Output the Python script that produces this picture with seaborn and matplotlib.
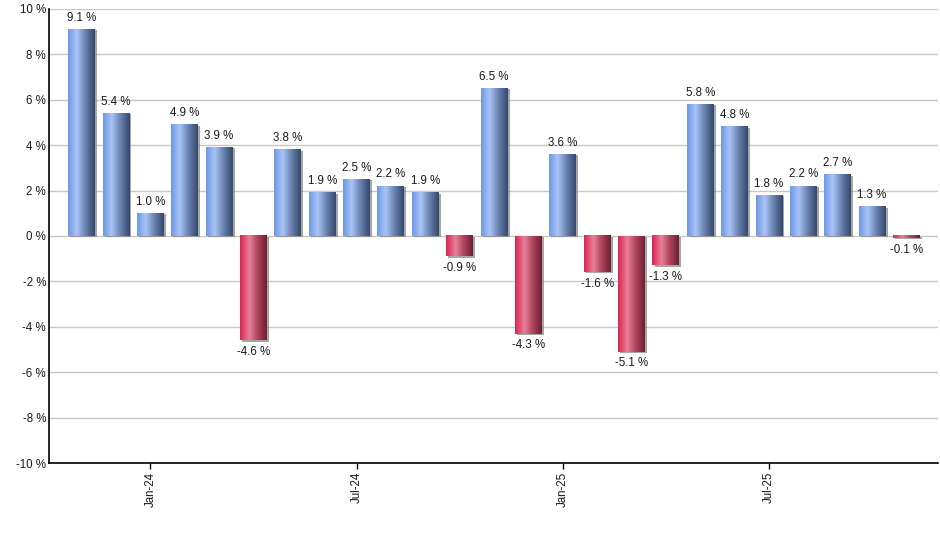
import numpy as np
import pandas as pd
import matplotlib
matplotlib.use("Agg")
import matplotlib.pyplot as plt
import matplotlib.patheffects as pe
from matplotlib.colors import LinearSegmentedColormap
import seaborn as sns

months = ["Nov-23", "Dec-23", "Jan-24", "Feb-24", "Mar-24", "Apr-24", "May-24", "Jun-24",
          "Jul-24", "Aug-24", "Sep-24", "Oct-24", "Nov-24", "Dec-24", "Jan-25", "Feb-25",
          "Mar-25", "Apr-25", "May-25", "Jun-25", "Jul-25", "Aug-25", "Sep-25", "Oct-25", "Nov-25"]
returns = [9.1, 5.4, 1.0, 4.9, 3.9, -4.6, 3.8, 1.9, 2.5, 2.2, 1.9, -0.9, 6.5, -4.3, 3.6,
           -1.6, -5.1, -1.3, 5.8, 4.8, 1.8, 2.2, 2.7, 1.3, -0.1]
tick_labels = ["Jan-24", "Jul-24", "Jan-25", "Jul-25"]
y_ticks = [-10, -8, -6, -4, -2, 0, 2, 4, 6, 8, 10]

df = pd.DataFrame({"month": months, "ret": returns})

sns.set_theme(style="white")
plt.rcParams["font.family"] = ["Liberation Sans", "DejaVu Sans"]

fig = plt.figure(figsize=(9.4, 5.5), dpi=100)
ax = fig.add_axes([0.052, 0.158, 0.946, 0.826])

sns.barplot(data=df, x="month", y="ret", ax=ax, width=0.78, color="#6f9be8",
            saturation=1, edgecolor="none", linewidth=0)

blue_cmap = LinearSegmentedColormap.from_list(
    "b", [(0.0, "#6e98e6"), (0.32, "#a9c5f6"), (0.65, "#6a82b0"), (1.0, "#35486c")])
red_cmap = LinearSegmentedColormap.from_list(
    "r", [(0.0, "#dc2550"), (0.35, "#e8809a"), (0.65, "#b04660"), (1.0, "#6e1f33")])
grad = np.linspace(0, 1, 64).reshape(1, -1)

for patch, val in zip(ax.patches, returns):
    x, y = patch.get_x(), patch.get_y()
    w, h = patch.get_width(), patch.get_height()
    y0, y1 = min(y, y + h), max(y, y + h)
    patch.set_facecolor("none")
    patch.set_path_effects([pe.SimplePatchShadow(offset=(1.5, -0.8), shadow_rgbFace="#808080", alpha=0.7), pe.Normal()])
    cmap = blue_cmap if val >= 0 else red_cmap
    ax.imshow(grad, cmap=cmap, extent=[x, x + w, y0, y1], aspect="auto",
              interpolation="bilinear", zorder=3)
    label = f"{val:.1f} %"
    if val >= 0:
        ax.annotate(label, (x + w / 2, y1), xytext=(0, 4), textcoords="offset points",
                    ha="center", va="bottom", fontsize=8.3, color="#1a1a1a", zorder=5)
    else:
        ax.annotate(label, (x + w / 2, y0), xytext=(0, -4), textcoords="offset points",
                    ha="center", va="top", fontsize=8.3, color="#1a1a1a", zorder=5)

ax.set_xlim(-0.95, 24.92)
ax.set_ylim(-10, 10)
ax.set_yticks(y_ticks)
ax.set_yticklabels([f"{t} %" for t in y_ticks], fontsize=8.3, color="#1a1a1a")
ax.yaxis.grid(True, color="#c8c8c8", linewidth=1)
ax.set_axisbelow(True)
tick_pos = [months.index(m) for m in tick_labels]
ax.set_xticks(tick_pos)
ax.set_xticklabels(tick_labels, rotation=90, fontsize=8.3, color="#1a1a1a")
ax.tick_params(axis="x", which="both", bottom=True, length=4, width=1, color="black", pad=2)
ax.tick_params(axis="y", left=False, length=0, pad=2)
ax.set_xlabel("")
ax.set_ylabel("")
for s in ["top", "right"]:
    ax.spines[s].set_visible(False)
for s in ["left", "bottom"]:
    ax.spines[s].set_color("black")
    ax.spines[s].set_linewidth(1.2)

fig.savefig("out.png", dpi=100)
